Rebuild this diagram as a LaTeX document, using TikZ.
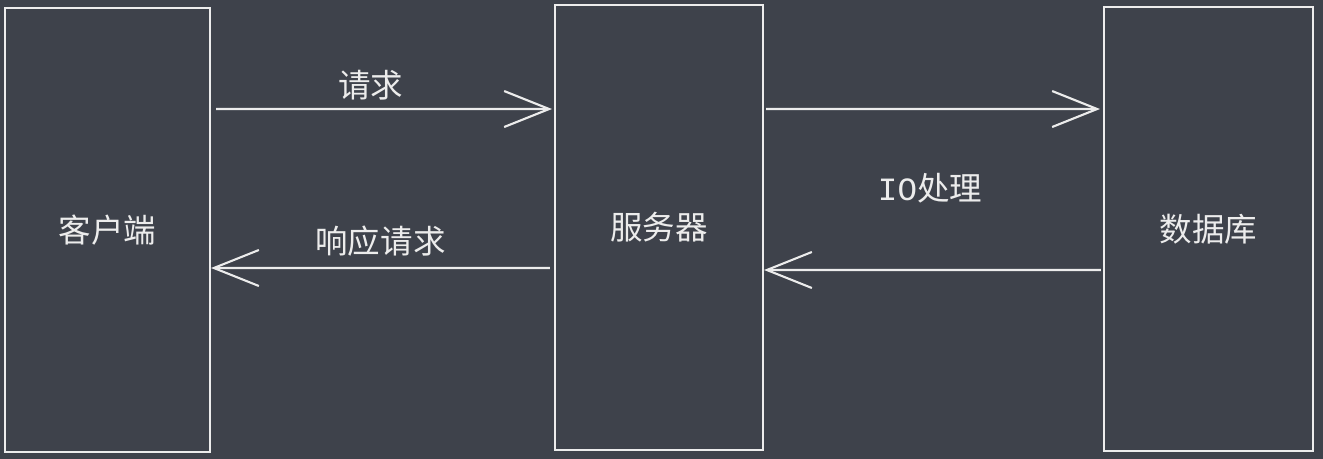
\documentclass[tikz,border=0pt]{standalone}
\usepackage{fontspec}
\setmainfont{Noto Sans CJK SC}
\newfontfamily\iofont{Liberation Mono}
\usepackage{xcolor}
\usetikzlibrary{positioning,calc,arrows.meta}

\definecolor{bgdark}{RGB}{62,66,75}
\definecolor{chalk}{RGB}{236,236,236}
\tikzset{
    unitbox/.style={draw=chalk, line width=1.2pt, text=chalk, inner sep=0pt, font=\fontsize{18.5}{20}\selectfont},
    flow/.style={draw=chalk, line width=1.2pt, -{Straight Barb[length=0.9cm, width=0.72cm, line width=1.2pt]}},
    flowlabel/.style={text=chalk, font=\fontsize{18.5}{20}\selectfont}
}

\begin{document}
\begin{tikzpicture}[x=0.02cm, y=-0.02cm]
    \fill[bgdark] (0,0) rectangle (1323,459);

    \node[unitbox, minimum width=4.1cm, minimum height=8.88cm] (client) at (107.5,230) {客户端};
    \node[unitbox, minimum width=4.16cm, minimum height=8.9cm] (server) at (659,227.5) {服务器};
    \node[unitbox, minimum width=4.18cm, minimum height=8.88cm] (db) at (1208.5,229) {数据库};

    \draw[flow] ([xshift=0.1cm, yshift=2.42cm]client.east) -- ([xshift=-0.04cm, yshift=2.37cm]server.west)
        node[flowlabel, pos=0.46, above=0.04cm] (reqlabel) {请求};
    \draw[flow] ([xshift=-0.08cm, yshift=-0.81cm]server.west) -- ([yshift=-0.76cm]client.east)
        node[flowlabel, pos=0.5, above=0.1cm] (resplabel) {响应请求};

    \draw[flow] ([xshift=0.04cm, yshift=2.37cm]server.east) -- ([xshift=-0.06cm, yshift=2.4cm]db.west);
    \draw[flow] ([xshift=-0.04cm, yshift=-0.82cm]db.west) -- ([yshift=-0.85cm]server.east);

    \node[flowlabel] (iolabel) at (930,188) {{\iofont IO}处理};
\end{tikzpicture}
\end{document}
